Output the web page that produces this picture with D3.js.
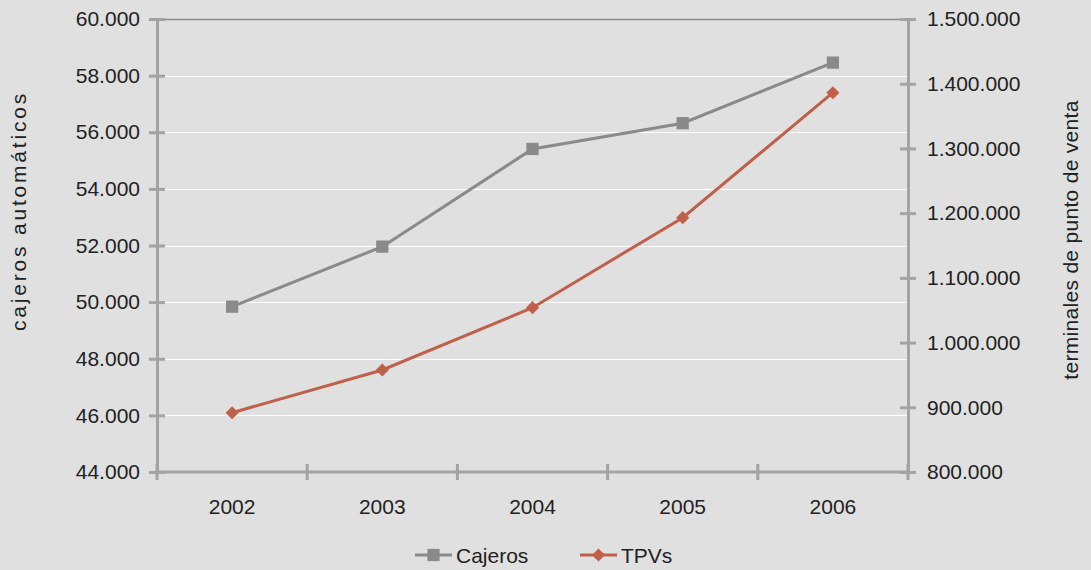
<!DOCTYPE html>
<html>
<head>
<meta charset="utf-8">
<script src="https://cdn.jsdelivr.net/npm/d3@7"></script>
<style>
  html, body { margin: 0; padding: 0; background: #e0e0e0; }
  svg { display: block; font-family: "Liberation Sans", Arial, sans-serif; }
</style>
</head>
<body>
<svg id="chart" width="1091" height="570"></svg>
<script>
// Years on the category axis
const years = ["2002", "2003", "2004", "2005", "2006"];
// ATMs (left axis)
const cajeros = [49840, 51960, 55410, 56320, 58460];
// Point-of-sale terminals (right axis)
const tpvs = [891600, 957600, 1053900, 1193000, 1386100];
// Tick values for both value axes
const leftTicks = [44000, 46000, 48000, 50000, 52000, 54000, 56000, 58000, 60000];
const rightTicks = [800000, 900000, 1000000, 1100000, 1200000, 1300000, 1400000, 1500000];
const seriesNames = ["Cajeros", "TPVs"];

const W = 1091, H = 570;
const m = { left: 157, right: 908, top: 19, bottom: 472 };
const axisColor = "#a3a3a3";
const grayLine = "#8a8a8a";
const redLine = "#c0604a";
const textColor = "#222222";
const fontSize = 21;

const es = d3.formatLocale({ decimal: ",", thousands: ".", grouping: [3], currency: ["", " €"] });
const fmt = es.format(",d");

const svg = d3.select("#chart");
svg.append("rect").attr("width", W).attr("height", H).attr("fill", "#e0e0e0");

const x = d3.scaleBand().domain(years).range([m.left, m.right]).padding(0);
const cx = d => x(d) + x.bandwidth() / 2;
const yL = d3.scaleLinear().domain([44000, 60000]).range([m.bottom, m.top]);
const yR = d3.scaleLinear().domain([800000, 1500000]).range([m.bottom, m.top]);

// Horizontal gridlines (white), with the top one drawn darker
svg.append("g").selectAll("line")
  .data(leftTicks.filter(t => t !== 44000))
  .join("line")
  .attr("x1", m.left).attr("x2", m.right)
  .attr("y1", d => Math.round(yL(d)) + 0.5).attr("y2", d => Math.round(yL(d)) + 0.5)
  .attr("stroke", d => d === 60000 ? grayLine : "#ffffff")
  .attr("stroke-width", d => d === 60000 ? 1.5 : 1);

// Axes drawn with d3 axis generators, styled afterwards
function styleAxis(g) {
  g.select(".domain").attr("stroke", axisColor).attr("stroke-width", 3);
  g.selectAll(".tick line").attr("stroke", axisColor).attr("stroke-width", 3);
  g.selectAll(".tick text").attr("fill", textColor).attr("font-size", fontSize)
    .attr("font-family", "Liberation Sans, Arial, sans-serif");
}

const gL = svg.append("g").attr("transform", `translate(${m.left},0)`)
  .call(d3.axisLeft(yL).tickValues(leftTicks).tickFormat(fmt).tickSize(8).tickSizeOuter(0).tickPadding(9));
gL.selectAll(".tick line").attr("x1", 8);
styleAxis(gL);

const gR = svg.append("g").attr("transform", `translate(${m.right},0)`)
  .call(d3.axisRight(yR).tickValues(rightTicks).tickFormat(fmt).tickSize(8).tickSizeOuter(0).tickPadding(11));
gR.selectAll(".tick line").attr("x1", -8);
styleAxis(gR);

// Category axis: ticks at band boundaries, labels at band centres
const bounds = years.map(y => x(y)).concat([m.right]);
const gX = svg.append("g");
gX.append("line")
  .attr("x1", m.left - 1.5).attr("x2", m.right + 1.5)
  .attr("y1", m.bottom).attr("y2", m.bottom)
  .attr("stroke", axisColor).attr("stroke-width", 3);
gX.selectAll("line.tk").data(bounds).join("line").attr("class", "tk")
  .attr("x1", d => d).attr("x2", d => d)
  .attr("y1", m.bottom - 8).attr("y2", m.bottom + 8)
  .attr("stroke", axisColor).attr("stroke-width", 3);
gX.selectAll("text").data(years).join("text")
  .attr("x", d => cx(d)).attr("y", 514)
  .attr("text-anchor", "middle").attr("fill", textColor).attr("font-size", fontSize)
  .text(d => d);

// Axis titles
svg.append("text")
  .attr("transform", "translate(26,211) rotate(-90)")
  .attr("text-anchor", "middle").attr("fill", textColor).attr("font-size", fontSize)
  .attr("letter-spacing", 2.8)
  .text("cajeros automáticos");
svg.append("text")
  .attr("transform", "translate(1078,240) rotate(-90)")
  .attr("text-anchor", "middle").attr("fill", textColor).attr("font-size", fontSize)
  .attr("letter-spacing", 0.3)
  .text("terminales de punto de venta");

// Series lines
const lineL = d3.line().x((d, i) => cx(years[i])).y(d => yL(d));
const lineR = d3.line().x((d, i) => cx(years[i])).y(d => yR(d));

svg.append("path").datum(cajeros).attr("d", lineL)
  .attr("fill", "none").attr("stroke", grayLine).attr("stroke-width", 3);
svg.append("path").datum(tpvs).attr("d", lineR)
  .attr("fill", "none").attr("stroke", redLine).attr("stroke-width", 3);

const sq = d3.symbol().type(d3.symbolSquare).size(150);
const dm = d3.symbol().type(d3.symbolDiamond2).size(110);

svg.append("g").selectAll("path").data(cajeros).join("path")
  .attr("d", sq).attr("fill", grayLine)
  .attr("transform", (d, i) => `translate(${cx(years[i])},${yL(d)})`);
svg.append("g").selectAll("path").data(tpvs).join("path")
  .attr("d", dm).attr("fill", redLine)
  .attr("transform", (d, i) => `translate(${cx(years[i])},${yR(d)})`);

// Legend
const legend = svg.append("g");
const legItems = [
  { name: seriesNames[0], color: grayLine, sym: sq, x0: 415 },
  { name: seriesNames[1], color: redLine, sym: dm, x0: 580 }
];
const ly = 555;
legItems.forEach(it => {
  legend.append("line").attr("x1", it.x0).attr("x2", it.x0 + 37)
    .attr("y1", ly).attr("y2", ly).attr("stroke", it.color).attr("stroke-width", 3);
  legend.append("path").attr("d", it.sym).attr("fill", it.color)
    .attr("transform", `translate(${it.x0 + 18.5},${ly})`);
  legend.append("text").attr("x", it.x0 + 41).attr("y", ly + 8)
    .attr("fill", textColor).attr("font-size", fontSize).text(it.name);
});
</script>
</body>
</html>
